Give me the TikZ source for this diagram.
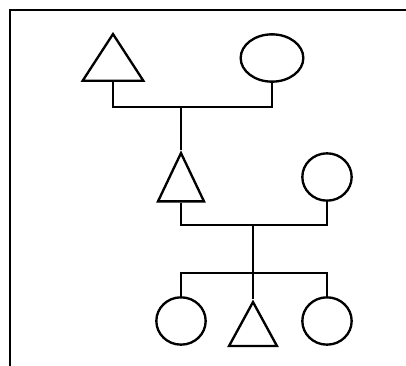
\documentclass[tikz,border=0pt]{standalone}
\usetikzlibrary{shapes.geometric}

\tikzset{
  homme/.style={draw, line width=2pt, isosceles triangle, isosceles triangle stretches,
    shape border rotate=90, inner sep=0pt, anchor=apex},
  femme/.style={draw, line width=2pt, ellipse, inner sep=0pt},
  lien/.style={line width=2pt},
}

\begin{document}
\begin{tikzpicture}[x=0.03cm, y=-0.03cm]
  \useasboundingbox (0,0) rectangle (406,366);
  % Cadre (haut et gauche)
  \draw[line width=1.6pt] (406,10) -- (10,10) -- (10,366);
  % Grands-parents
  \node[homme, minimum width=1.82cm, minimum height=1.4cm] (gpere) at (113,31) {};
  \node[femme, minimum width=1.88cm, minimum height=1.42cm] (gmere) at (272,58) {};
  % Parents
  \node[homme, minimum width=1.38cm, minimum height=1.45cm] (pere) at (181,150) {};
  \node[femme, minimum width=1.48cm, minimum height=1.42cm] (mere) at (327,177) {};
  % Enfants
  \node[femme, minimum width=1.48cm, minimum height=1.42cm] (fille1) at (181,321) {};
  \node[homme, minimum width=1.44cm, minimum height=1.32cm] (fils) at (253,299) {};
  \node[femme, minimum width=1.48cm, minimum height=1.42cm] (fille2) at (327,321) {};
  % Unions et fratrie
  \coordinate (union1) at (181,107);
  \coordinate (union2) at (253,225);
  \coordinate (fratrie) at (253,273);
  \draw[lien] (gpere.south) |- (union1) -| (gmere.south);
  \draw[lien] (union1) -- (pere.apex);
  \draw[lien] (pere.south) |- (union2) -| (mere.south);
  \draw[lien] (union2) -- (fils.apex);
  \draw[lien] (fille1.north) |- (fratrie) -| (fille2.north);
\end{tikzpicture}
\end{document}
